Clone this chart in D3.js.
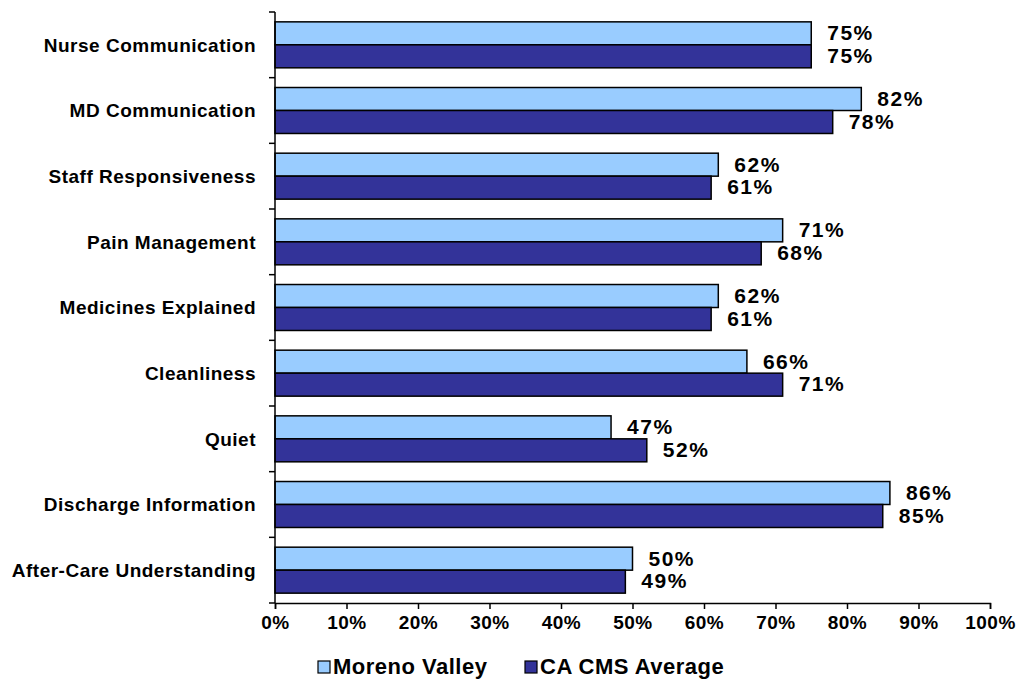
<!DOCTYPE html>
<html><head><meta charset="utf-8">
<script src="https://cdn.jsdelivr.net/npm/d3@7/dist/d3.min.js"></script>
<style>body{margin:0;background:#fff}svg{display:block}text{font-family:"Liberation Sans",Arial,sans-serif;font-weight:bold;fill:#000}</style>
</head><body><svg id="c" width="1017" height="680"></svg>
<script>
const categories = ["Nurse Communication","MD Communication","Staff Responsiveness","Pain Management","Medicines Explained","Cleanliness","Quiet","Discharge Information","After-Care Understanding"];
const seriesNames = ["Moreno Valley","CA CMS Average"];
const morenoValley = [75,82,62,71,62,66,47,86,50];
const caCmsAverage = [75,78,61,68,61,71,52,85,49];
const xTicks = [0,10,20,30,40,50,60,70,80,90,100];
const colors = ["#99CCFF","#333399"];

(function(){
const svg = d3.select("#c");
const pLeft = 275, pRight = 990, pTop = 12, pBottom = 603;
const x = d3.scaleLinear().domain([0,100]).range([pLeft,pRight]);
const y = d3.scaleBand().domain(categories).range([pTop,pBottom]).paddingInner(0.3).paddingOuter(0.15);
const ys = d3.scaleBand().domain(seriesNames).range([0,y.bandwidth()]);
const data = categories.map((c,i)=>({c, vals:[morenoValley[i],caCmsAverage[i]]}));

const g = svg.append("g");
data.forEach(d=>{
  d.vals.forEach((v,j)=>{
    const yy = y(d.c)+ys(seriesNames[j]);
    g.append("rect").attr("x",x(0)).attr("y",yy).attr("width",x(v)-x(0)).attr("height",ys.bandwidth())
      .attr("fill",colors[j]).attr("stroke","#000").attr("stroke-width",1.5);
    g.append("text").attr("x",x(v)+16).attr("y",yy+ys.bandwidth()/2 + (j===0?-0.5:-1)).attr("dy","0.36em")
      .attr("font-size",21).attr("letter-spacing",1.5).text(v+"%");
  });
  svg.append("text").attr("x",256).attr("y",y(d.c)+y.bandwidth()/2).attr("dy","0.36em")
    .attr("text-anchor","end").attr("font-size",19).attr("letter-spacing",0.5).text(d.c);
});

const step = y.step();
svg.append("line").attr("x1",pLeft).attr("x2",pLeft).attr("y1",pTop).attr("y2",pBottom).attr("stroke","#000").attr("stroke-width",1.5);
for(let i=0;i<=categories.length;i++){
  const yy = pTop + i*step;
  svg.append("line").attr("x1",pLeft-6).attr("x2",pLeft).attr("y1",yy).attr("y2",yy).attr("stroke","#000").attr("stroke-width",1.5);
}
const xAxis = d3.axisBottom(x).tickValues(xTicks).tickFormat(d=>d+"%").tickSize(6).tickPadding(7);
const ax = svg.append("g").attr("transform",`translate(0,${pBottom})`).call(xAxis);
ax.select(".domain").attr("stroke","#000").attr("stroke-width",1.5);
ax.selectAll(".tick line").attr("stroke","#000").attr("stroke-width",1.5);
ax.selectAll("text").attr("font-size",19).attr("letter-spacing",0.5).attr("font-family",'"Liberation Sans",Arial,sans-serif').attr("font-weight","bold").attr("fill","#000");

const legX = [318,525];
seriesNames.forEach((n,j)=>{
  svg.append("rect").attr("x",legX[j]).attr("y",661).attr("width",12).attr("height",12)
    .attr("fill",colors[j]).attr("stroke","#000").attr("stroke-width",1.2);
  svg.append("text").attr("x",legX[j]+15).attr("y",666).attr("dy","0.36em").attr("font-size",22).attr("letter-spacing",0.5).text(n);
});
})();
</script></body></html>
